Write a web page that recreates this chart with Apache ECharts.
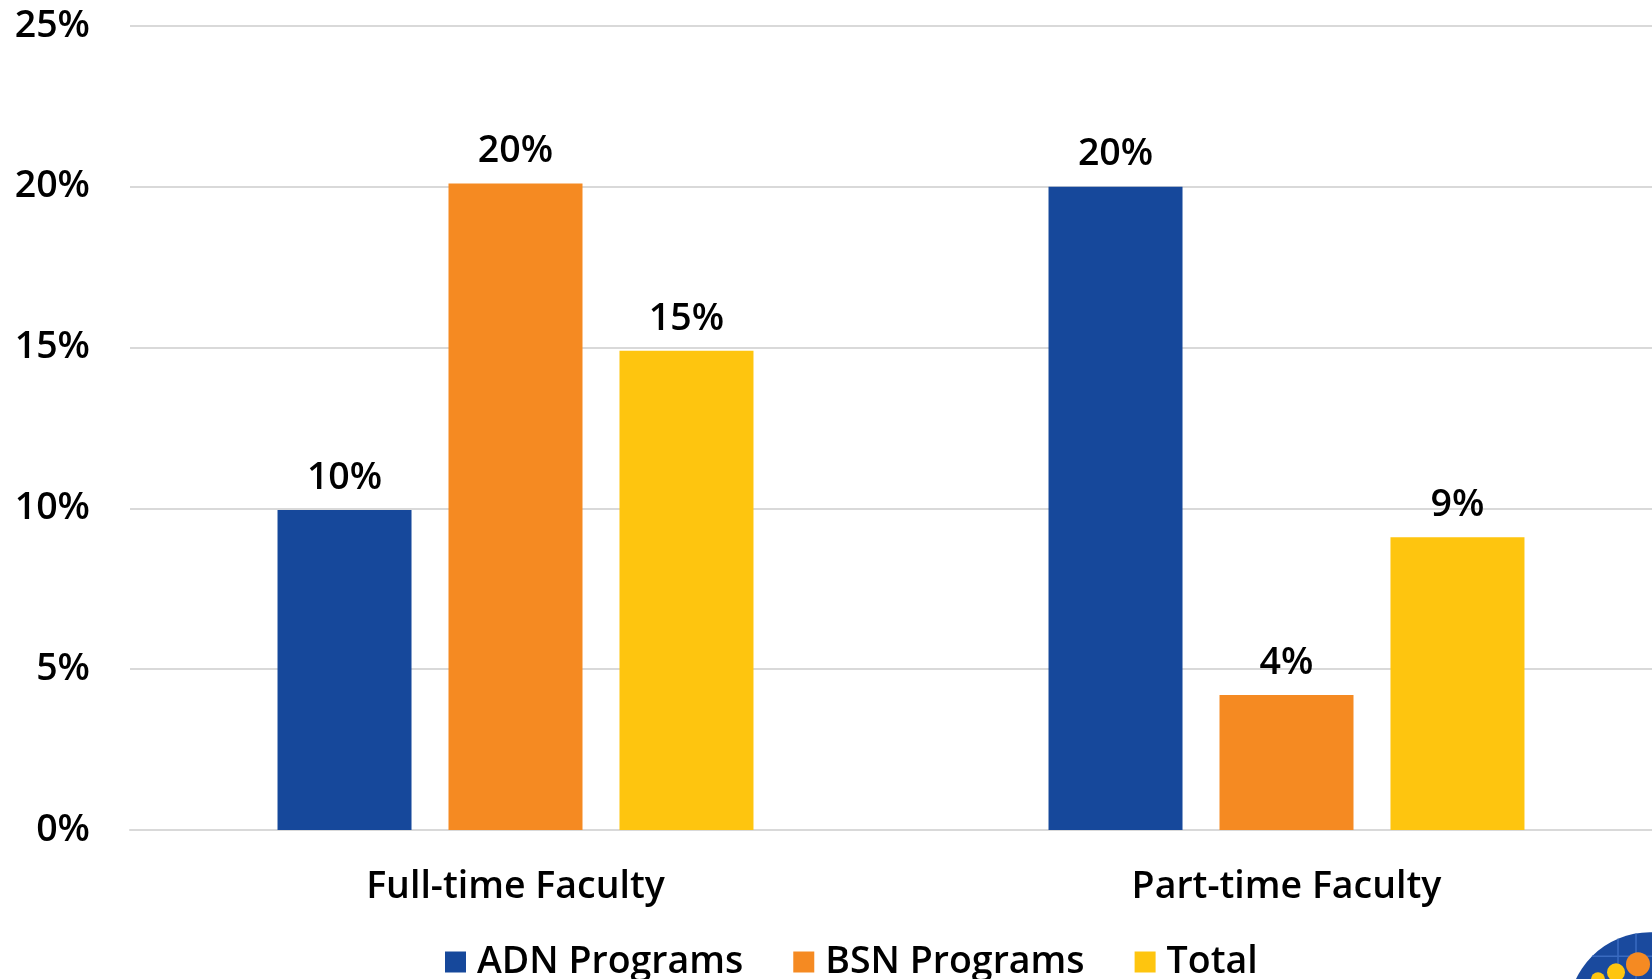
<!DOCTYPE html>
<html>
<head>
<meta charset="utf-8">
<script src="https://cdn.jsdelivr.net/npm/echarts@6/dist/echarts.min.js"></script>
<style>
  html, body { margin: 0; padding: 0; background: #fff; }
  #chart { width: 1652px; height: 979px; }
</style>
</head>
<body>
<div id="chart"></div>
<script>
// Faculty groups on the x axis
const categories = ['Full-time Faculty', 'Part-time Faculty'];
// Percent values per program type
const adnValues = [9.95, 20.0];
const bsnValues = [20.1, 4.2];
const totalValues = [14.9, 9.1];
const seriesNames = ['ADN Programs', 'BSN Programs', 'Total'];
const yTicks = { min: 0, max: 25, interval: 5 };

const FONT = '"Open Sans", "Noto Sans", sans-serif';
const FS = 37.5;
const colors = ['#16489B', '#F58A22', '#FEC50F'];

const chart = echarts.init(document.getElementById('chart'), null, { renderer: 'canvas' });

function barSeries(name, data, color) {
  return {
    name: name,
    type: 'bar',
    data: data,
    barWidth: 134,
    barGap: '27.6%',
    itemStyle: { color: color },
    label: {
      show: true,
      position: 'top',
      distance: 13,
      color: '#000',
      fontFamily: FONT,
      fontSize: FS,
      fontWeight: 600,
      formatter: p => Math.round(p.value) + '%'
    }
  };
}

// Line segments of the badge grid, kept inside its circle
function chordH(y, cx, cy, r) {
  const dx = Math.sqrt(r * r - (y - cy) * (y - cy));
  return { x1: cx - dx, y1: y, x2: cx + dx, y2: y };
}
function chordV(x, cx, cy, r) {
  const dy = Math.sqrt(r * r - (x - cx) * (x - cx));
  return { x1: x, y1: cy - dy, x2: x, y2: cy + dy };
}
const gridStroke = { stroke: '#3A6BC0', lineWidth: 1.5 };

chart.setOption({
  animation: false,
  color: colors,
  grid: { left: 130, width: 1542, top: 26, bottom: 149, containLabel: false, outerBoundsMode: 'none' },
  legend: {
    data: seriesNames,
    left: 440,
    top: 938,
    itemWidth: 21,
    itemHeight: 21,
    itemGap: 50,
    icon: 'rect',
    textStyle: { fontFamily: FONT, fontSize: FS, fontWeight: 600, color: '#000', padding: [0, 0, 0, 6] }
  },
  xAxis: {
    type: 'category',
    data: categories,
    axisLine: { show: true, lineStyle: { color: '#D9D9D9', width: 2 } },
    axisTick: { show: false },
    axisLabel: { fontFamily: FONT, fontSize: FS, fontWeight: 600, color: '#000', margin: 38 }
  },
  yAxis: {
    type: 'value',
    min: yTicks.min,
    max: yTicks.max,
    interval: yTicks.interval,
    axisLine: { show: false },
    axisTick: { show: false },
    splitLine: { lineStyle: { color: '#D9D9D9', width: 2 } },
    axisLabel: { fontFamily: FONT, fontSize: FS, fontWeight: 600, color: '#000', margin: 40, formatter: '{value}%' }
  },
  series: [
    barSeries(seriesNames[0], adnValues, colors[0]),
    barSeries(seriesNames[1], bsnValues, colors[1]),
    barSeries(seriesNames[2], totalValues, colors[2])
  ],
  graphic: [
    {
      type: 'group',
      left: 1568,
      top: 931,
      children: [
        { type: 'circle', shape: { cx: 82, cy: 82, r: 82 }, style: { fill: '#1A4A9E' } },
        { type: 'line', shape: chordH(24, 82, 82, 82), style: gridStroke },
        { type: 'line', shape: chordV(50, 82, 82, 82), style: gridStroke },
        { type: 'line', shape: chordV(68, 82, 82, 82), style: gridStroke },
        { type: 'circle', shape: { cx: 70, cy: 32, r: 12 }, style: { fill: '#F58A22' } },
        { type: 'circle', shape: { cx: 48, cy: 40, r: 9 }, style: { fill: '#FEC50F' } },
        { type: 'circle', shape: { cx: 30, cy: 47, r: 7 }, style: { fill: '#FEC50F' } }
      ]
    }
  ]
});
</script>
</body>
</html>
